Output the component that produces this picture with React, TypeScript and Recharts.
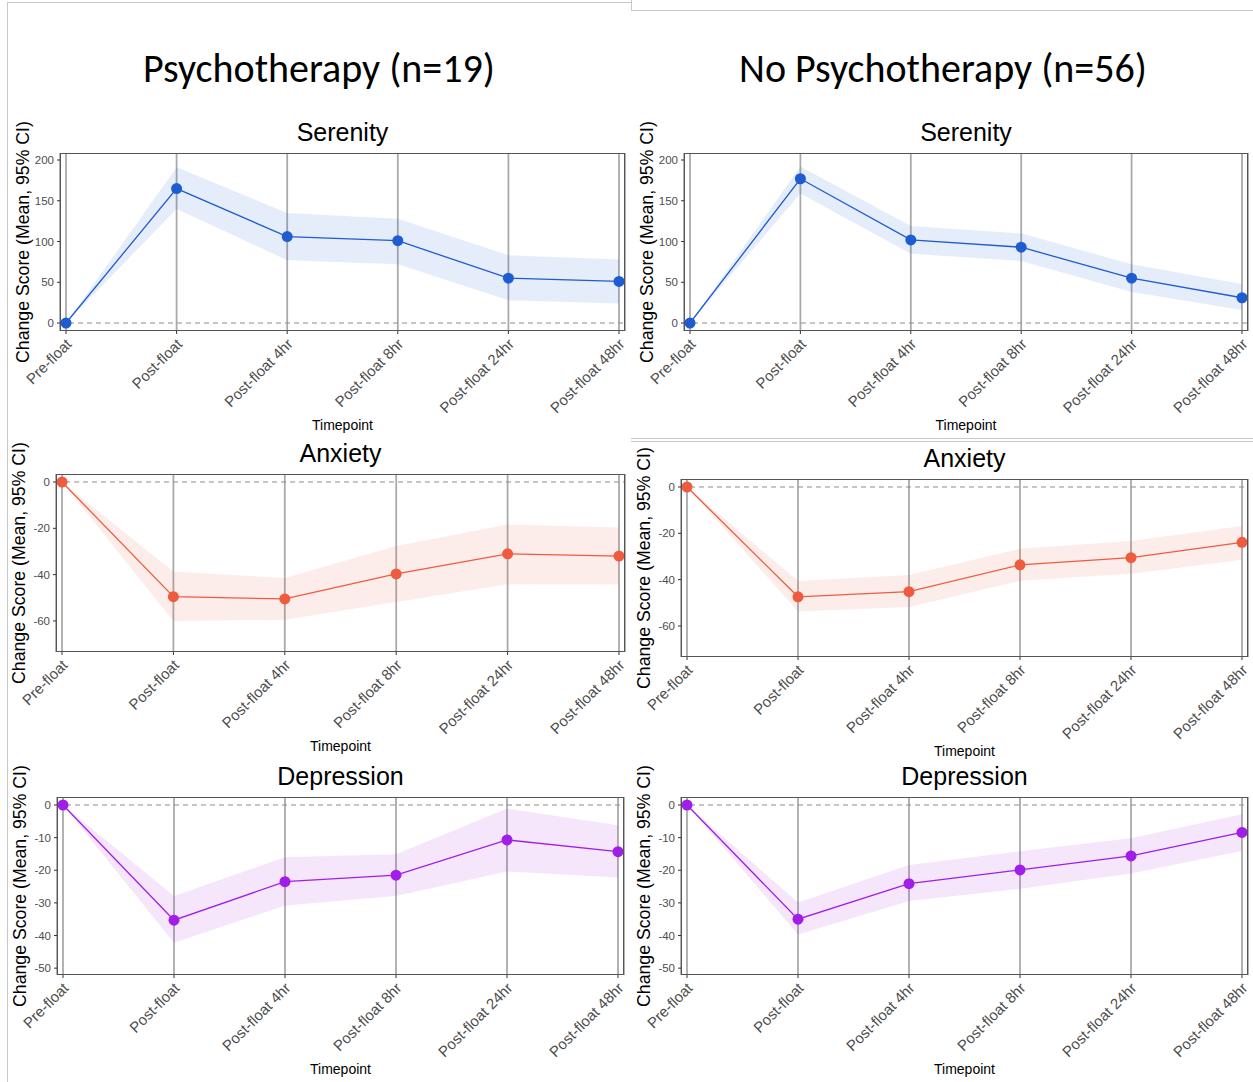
import * as React from "react"
import { Area, CartesianGrid, ComposedChart, Line, ReferenceLine, XAxis, YAxis } from "recharts"

const timepoints = ["Pre-float", "Post-float", "Post-float 4hr", "Post-float 8hr", "Post-float 24hr", "Post-float 48hr"]

// Psychotherapy (n=19)
const psySerenityMean = [0, 165, 106, 101, 55, 51]
const psySerenityLo = [0, 140, 77, 72, 28, 24]
const psySerenityHi = [0, 191, 135, 128, 83, 78]

const psyAnxietyMean = [0, -49.5, -50.5, -39.7, -31, -32]
const psyAnxietyLo = [0, -60, -59.5, -51.8, -44.2, -44.3]
const psyAnxietyHi = [0, -38.8, -41.4, -27.6, -18.3, -19.7]

const psyDepressionMean = [0, -35.3, -23.5, -21.5, -10.7, -14.3]
const psyDepressionLo = [0, -42.2, -30.8, -27.9, -20.4, -22.2]
const psyDepressionHi = [0, -27.9, -16, -15.1, -1.1, -6.2]

// No Psychotherapy (n=56)
const noSerenityMean = [0, 177, 102, 93, 55, 31]
const noSerenityLo = [0, 159, 85, 76, 38, 16]
const noSerenityHi = [0, 192, 119, 110, 72, 48]

const noAnxietyMean = [0, -47.4, -45.2, -33.6, -30.5, -23.9]
const noAnxietyLo = [0, -53.8, -51.8, -40.5, -37.5, -31.4]
const noAnxietyHi = [0, -40.6, -38, -26.7, -23.3, -16.8]

const noDepressionMean = [0, -35, -24.1, -19.9, -15.6, -8.4]
const noDepressionLo = [0, -39.7, -29.4, -25.7, -21, -14.1]
const noDepressionHi = [0, -29.9, -18.4, -14.2, -10.2, -2.8]

const serenityTicks = [0, 50, 100, 150, 200]
const anxietyTicks = [-60, -40, -20, 0]
const depressionTicks = [-50, -40, -30, -20, -10, 0]

const BLUE = "#1f5bd1"
const RED = "#ef5b3f"
const PURPLE = "#a11ee8"
const FONT = "'Liberation Sans', Arial, Helvetica, sans-serif"

function buildRows(mean: number[], lo: number[], hi: number[]) {
  return timepoints.map((t, i) => ({ t, mean: mean[i], ci: [lo[i], hi[i]] }))
}

function XTick(props: any) {
  const { x, y, payload } = props
  return (
    <text
      transform={`translate(${x - 1},${y + 1.5}) rotate(-45)`}
      textAnchor="end"
      dy="0.71em"
      fontSize={15}
      fontFamily={FONT}
      fill="#4d4d4d"
    >
      {payload.value}
    </text>
  )
}

type PanelProps = {
  title: string
  px: number
  py: number
  pw: number
  ph: number
  domain: [number, number]
  ticks: number[]
  color: string
  mean: number[]
  lo: number[]
  hi: number[]
}

function Panel({ title, px, py, pw, ph, domain, ticks, color, mean, lo, hi }: PanelProps) {
  const data = buildRows(mean, lo, hi)
  const cx = px + pw / 2
  const cy = py + ph / 2
  return (
    <>
      <div
        style={{
          position: "absolute",
          left: cx,
          top: py - 21,
          transform: "translate(-50%, -50%)",
          fontFamily: FONT,
          fontSize: 25,
          color: "#000",
          whiteSpace: "nowrap",
        }}
      >
        {title}
      </div>
      <div
        style={{
          position: "absolute",
          left: px - 37,
          top: cy,
          transform: "translate(-50%, -50%) rotate(-90deg)",
          fontFamily: FONT,
          fontSize: 17.7,
          color: "#000",
          whiteSpace: "nowrap",
        }}
      >
        Change Score (Mean, 95% CI)
      </div>
      <div
        style={{
          position: "absolute",
          left: cx,
          top: py + ph + 94,
          transform: "translate(-50%, -50%)",
          fontFamily: FONT,
          fontSize: 14,
          color: "#000",
          whiteSpace: "nowrap",
        }}
      >
        Timepoint
      </div>
      <div style={{ position: "absolute", left: px - 45, top: py - 10 }}>
        <ComposedChart
          width={pw + 75}
          height={ph + 105}
          data={data}
          margin={{ top: 10, right: 30, bottom: 0, left: 10 }}
        >
          <CartesianGrid horizontal={false} vertical stroke="#aaaaaa" strokeWidth={1.8} />
          <XAxis
            dataKey="t"
            type="category"
            scale="point"
            padding={{ left: 6, right: 6 }}
            height={95}
            interval={0}
            axisLine={false}
            tickLine={{ stroke: "#333" }}
            tickSize={3}
            tick={<XTick />}
          />
          <YAxis
            type="number"
            domain={domain}
            ticks={ticks}
            allowDataOverflow
            width={35}
            axisLine={false}
            tickLine={{ stroke: "#333" }}
            tickSize={3}
            tickMargin={3}
            tick={{ fontSize: 11.5, fill: "#4d4d4d", fontFamily: FONT }}
          />
          <ReferenceLine y={0} stroke="#8c8c8c" strokeDasharray="5 4" strokeWidth={1} ifOverflow="extendDomain" />
          <Area
            dataKey="ci"
            type="linear"
            stroke="none"
            fill={color}
            fillOpacity={0.11}
            isAnimationActive={false}
            activeDot={false}
          />
          <Line
            dataKey="mean"
            type="linear"
            stroke={color}
            strokeWidth={1.3}
            dot={{ r: 5.5, fill: color, stroke: color, strokeWidth: 0 }}
            activeDot={false}
            isAnimationActive={false}
          />
        </ComposedChart>
      </div>
      <div
        style={{
          position: "absolute",
          left: px,
          top: py,
          width: pw,
          height: ph,
          boxSizing: "border-box",
          border: "1px solid #555",
          pointerEvents: "none",
        }}
      />
    </>
  )
}

const line = (s: React.CSSProperties): React.CSSProperties => ({ position: "absolute", background: "#c8c8c8", ...s })

const groupTitle: React.CSSProperties = {
  position: "absolute",
  top: 68,
  transform: "translate(-50%, -50%)",
  fontFamily: "Carlito, 'Open Sans', sans-serif",
  fontSize: 40,
  whiteSpace: "nowrap",
  color: "#000",
}

export default function App() {
  const serDomain: [number, number] = [-9.8, 208.6]
  const anxDomain: [number, number] = [-73.4, 3.45]
  const depDomain: [number, number] = [-52.1, 2.45]
  return (
    <div style={{ position: "absolute", left: 0, top: 0, width: 1253, height: 1082, background: "#fff", overflow: "hidden" }}>
      <div style={line({ left: 7, top: 2, width: 1, height: 1080 })} />
      <div style={line({ left: 7, top: 2, width: 624, height: 1 })} />
      <div style={line({ left: 631, top: 0, width: 1, height: 10 })} />
      <div style={line({ left: 631, top: 10, width: 622, height: 1 })} />
      <div style={line({ left: 631, top: 438, width: 622, height: 1 })} />
      <div style={line({ left: 631, top: 441, width: 622, height: 1 })} />

      <div style={{ ...groupTitle, left: 319 }}>Psychotherapy (n=19)</div>
      <div style={{ ...groupTitle, left: 943 }}>No Psychotherapy (n=56)</div>

      <Panel title="Serenity" px={60} py={153} pw={565} ph={178} domain={serDomain} ticks={serenityTicks} color={BLUE} mean={psySerenityMean} lo={psySerenityLo} hi={psySerenityHi} />
      <Panel title="Serenity" px={684} py={153} pw={564} ph={178} domain={serDomain} ticks={serenityTicks} color={BLUE} mean={noSerenityMean} lo={noSerenityLo} hi={noSerenityHi} />
      <Panel title="Anxiety" px={56} py={474} pw={569} ph={178} domain={anxDomain} ticks={anxietyTicks} color={RED} mean={psyAnxietyMean} lo={psyAnxietyLo} hi={psyAnxietyHi} />
      <Panel title="Anxiety" px={681} py={479} pw={567} ph={178} domain={anxDomain} ticks={anxietyTicks} color={RED} mean={noAnxietyMean} lo={noAnxietyLo} hi={noAnxietyHi} />
      <Panel title="Depression" px={57} py={797} pw={567} ph={178} domain={depDomain} ticks={depressionTicks} color={PURPLE} mean={psyDepressionMean} lo={psyDepressionLo} hi={psyDepressionHi} />
      <Panel title="Depression" px={681} py={797} pw={567} ph={178} domain={depDomain} ticks={depressionTicks} color={PURPLE} mean={noDepressionMean} lo={noDepressionLo} hi={noDepressionHi} />
    </div>
  )
}
